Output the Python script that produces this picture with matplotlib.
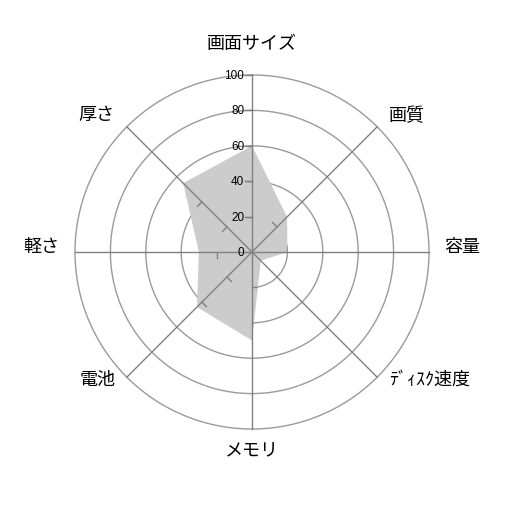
import numpy as np
import matplotlib
matplotlib.use("Agg")
import matplotlib.pyplot as plt

plt.rcParams['font.family'] = ['Noto Sans CJK JP', 'DejaVu Sans']

labels = ["画面サイズ", "画質", "容量", "ﾃﾞｨｽｸ速度", "メモリ", "電池", "軽さ", "厚さ"]
values = [60, 28, 20, 7, 50, 44, 30, 55]
rticks = [0, 20, 40, 60, 80, 100]

# label centres (data units, 100 = outer ring)
label_pos = [(0, 118), (87.6, 77.4), (118.6, 3.4), (100.6, -71.8),
             (0, -112.3), (-87, -71.8), (-118.9, 3.4), (-88, 78)]

n = len(labels)
ang = np.arange(n) * 2 * np.pi / n  # clockwise from top

fig = plt.figure(figsize=(5.06, 5.06), dpi=100)
ax = fig.add_axes([0, 0, 1, 1])
ax.set_xlim(-252 / 1.77, 254 / 1.77)
ax.set_ylim(-253 / 1.77, 253 / 1.77)
ax.set_aspect('equal')
ax.axis('off')

# rings (below the fill)
t = np.linspace(0, 2 * np.pi, 400)
for r in rticks[1:]:
    ax.plot(r * np.sin(t), r * np.cos(t), color='#9a9a9a', lw=1, zorder=1)

# data polygon
v = np.array(values, dtype=float)
xs = v * np.sin(ang)
ys = v * np.cos(ang)
poly = ax.fill(xs, ys, color='#cccccc', lw=0, zorder=2)[0]

# spokes, plus ticks that only show where the fill hides the rings
for a in ang:
    ax.plot([0, 100 * np.sin(a)], [0, 100 * np.cos(a)], color='#808080', lw=1, zorder=3)
    px, py = -np.cos(a), np.sin(a)
    for r in rticks[1:]:
        x0, y0 = r * np.sin(a), r * np.cos(a)
        tk, = ax.plot([x0, x0 + 3.5 * px], [y0, y0 + 3.5 * py], color='#808080', lw=1, zorder=3)
        tk.set_clip_path(poly)

# radial tick marks / labels on top spoke
for r in rticks:
    ax.plot([-4, 0], [r, r], color='#808080', lw=1, zorder=3)
    ax.text(-4.3, r, str(r), ha='right', va='center', fontsize=8.5,
            family='Liberation Sans', color='black', zorder=4)

for lab, (lx, ly) in zip(labels, label_pos):
    ax.text(lx, ly, lab, ha='center', va='center', fontsize=13, color='black')

fig.savefig('out.png', dpi=100)
